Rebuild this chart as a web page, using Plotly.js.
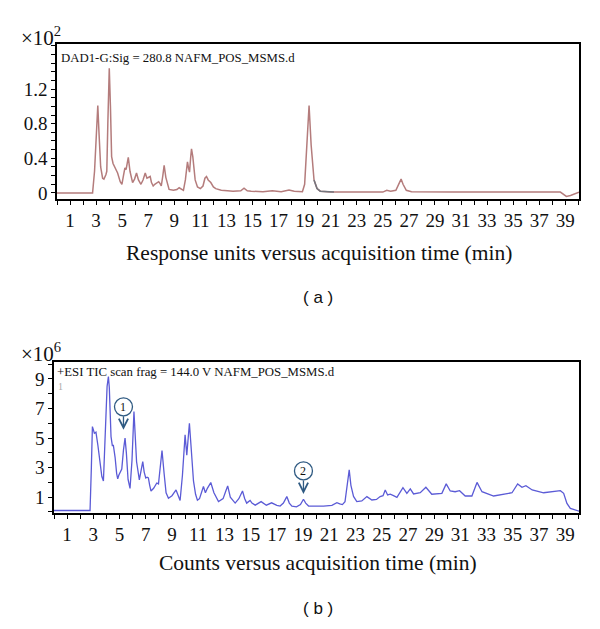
<!DOCTYPE html>
<html>
<head>
<meta charset="utf-8">
<script src="https://cdn.plot.ly/plotly-3.0.1.min.js"></script>
<style>
html,body{margin:0;padding:0;background:#fff;}
#chart{width:600px;height:629px;}
</style>
</head>
<body>
<div id="chart"></div>
<script>
// ---- Panel (a): DAD signal (x10^2 response units) ----
const timeA = [0, 2.73, 2.88, 3.0, 3.13, 3.22, 3.35, 3.5, 3.6, 3.75, 3.82, 3.9, 4.01, 4.1, 4.19, 4.3, 4.45, 4.65, 4.85, 4.98, 5.1, 5.21, 5.3, 5.47, 5.6, 5.8, 5.95, 6.1, 6.25, 6.44, 6.6, 6.77, 6.9, 6.98, 7.15, 7.25, 7.38, 7.5, 7.66, 7.8, 7.9, 8.0, 8.12, 8.22, 8.35, 8.6, 8.93, 9.2, 9.37, 9.55, 9.7, 9.85, 10.01, 10.1, 10.17, 10.25, 10.32, 10.42, 10.6, 10.78, 11.0, 11.2, 11.35, 11.47, 11.6, 11.8, 12.0, 12.18, 12.6, 13.08, 13.5, 14.1, 14.35, 14.6, 14.9, 15.8, 16.52, 17.2, 17.8, 18.2, 18.83, 19.0, 19.15, 19.34, 19.5, 19.72, 19.95, 20.2, 21.0, 21.25, 23.0, 25.0, 25.3, 25.6, 26.0, 26.2, 26.4, 26.55, 26.8, 27.2, 30.4, 38.62, 39.08, 39.4, 40.05];
const valueA = [0, 0, 0.25, 0.7, 1.01, 0.7, 0.3, 0.17, 0.16, 0.21, 0.25, 0.8, 1.44, 1.0, 0.42, 0.34, 0.3, 0.23, 0.13, 0.10, 0.2, 0.29, 0.27, 0.41, 0.25, 0.12, 0.16, 0.23, 0.15, 0.10, 0.15, 0.23, 0.17, 0.18, 0.19, 0.12, 0.08, 0.10, 0.12, 0.13, 0.11, 0.08, 0.2, 0.32, 0.18, 0.04, 0.03, 0.04, 0.06, 0.04, 0.03, 0.15, 0.36, 0.28, 0.24, 0.4, 0.51, 0.42, 0.15, 0.07, 0.05, 0.08, 0.17, 0.19, 0.15, 0.12, 0.07, 0.05, 0.03, 0.025, 0.02, 0.025, 0.055, 0.025, 0.02, 0.015, 0.025, 0.015, 0.035, 0.02, 0.015, 0.1, 0.5, 1.01, 0.55, 0.15, 0.05, 0.02, 0.01, 0.01, 0.01, 0.01, 0.03, 0.02, 0.03, 0.1, 0.16, 0.1, 0.03, 0.015, 0.01, 0.01, -0.04, -0.03, 0.01];

// ---- Panel (b): ESI TIC (x10^6 counts) ----
const timeB = [0, 2.75, 2.85, 2.93, 3.08, 3.2, 3.35, 3.51, 3.65, 3.77, 3.89, 3.97, 4.05, 4.15, 4.22, 4.35, 4.45, 4.53, 4.66, 4.78, 4.86, 4.95, 5.04, 5.17, 5.3, 5.42, 5.52, 5.65, 5.8, 5.95, 6.1, 6.2, 6.3, 6.51, 6.65, 6.77, 6.88, 7.0, 7.1, 7.2, 7.3, 7.4, 7.6, 7.84, 7.97, 8.1, 8.24, 8.4, 8.55, 8.73, 9.0, 9.31, 9.45, 9.62, 9.8, 10.0, 10.13, 10.22, 10.33, 10.45, 10.64, 10.8, 10.94, 11.1, 11.25, 11.4, 11.55, 11.7, 11.96, 12.2, 12.55, 12.9, 13.1, 13.25, 13.45, 13.82, 14.1, 14.38, 14.55, 14.7, 14.96, 15.1, 15.35, 15.8, 16.2, 16.6, 17.0, 17.25, 17.5, 17.76, 17.95, 18.15, 18.5, 18.8, 19.03, 19.2, 19.42, 20.0, 20.56, 21.2, 21.58, 21.8, 22.0, 22.2, 22.35, 22.52, 22.65, 22.85, 23.1, 23.48, 23.87, 24.25, 24.6, 24.88, 25.1, 25.27, 25.45, 25.65, 25.9, 26.16, 26.62, 26.92, 27.18, 27.43, 27.94, 28.37, 28.82, 29.59, 29.92, 30.23, 30.6, 30.94, 31.37, 31.88, 32.27, 32.65, 33.54, 34.3, 34.94, 35.37, 35.7, 36.0, 36.48, 37.35, 38.12, 38.63, 38.88, 39.13, 39.39, 40.08];
const valueB = [0.1, 0.1, 3.0, 5.78, 5.33, 5.4, 4.5, 3.2, 2.4, 2.1, 5.0, 6.8, 8.5, 9.17, 8.4, 5.1, 4.5, 4.5, 3.7, 2.6, 2.24, 2.5, 2.7, 2.9, 4.2, 5.0, 4.0, 2.2, 1.6, 3.5, 6.8, 5.0, 3.4, 2.17, 2.8, 3.41, 2.7, 2.3, 2.35, 2.3, 1.8, 1.42, 1.6, 1.96, 1.9, 3.0, 4.16, 2.6, 1.3, 0.93, 1.1, 1.49, 1.1, 0.78, 2.5, 5.22, 3.85, 5.0, 6.0, 4.5, 2.1, 1.2, 0.8, 0.9, 1.3, 1.72, 1.3, 1.6, 1.99, 1.3, 0.7, 0.9, 1.4, 1.76, 1.0, 0.6, 0.9, 1.42, 0.9, 0.6, 0.78, 0.6, 0.46, 0.7, 0.46, 0.62, 0.45, 0.4, 0.6, 1.04, 0.6, 0.4, 0.35, 0.5, 0.86, 0.6, 0.4, 0.38, 0.4, 0.45, 0.63, 0.55, 0.5, 0.7, 1.8, 2.85, 1.8, 1.05, 0.7, 0.75, 1.04, 0.81, 0.85, 1.04, 1.1, 1.49, 1.15, 1.2, 1.1, 0.99, 1.65, 1.26, 1.56, 1.22, 1.3, 1.67, 1.2, 1.26, 1.9, 1.42, 1.37, 1.44, 1.08, 1.08, 2.0, 1.37, 1.08, 1.22, 1.3, 1.9, 1.67, 1.78, 1.49, 1.3, 1.37, 1.44, 1.26, 0.58, 0.24, 0.05];

// Tick labels and texts
const xTickVals = [1,3,5,7,9,11,13,15,17,19,21,23,25,27,29,31,33,35,37,39];
const yTickValsA = [0, 0.4, 0.8, 1.2];
const yTickTextA = ['0', '0.4', '0.8', '1.2'];
const yTickValsB = [1, 3, 5, 7, 9];
const peakLabels = ['1', '2'];
const peakTimes = [5.3, 19.03];
const peakTipValues = [5.56, 1.22];
const grayStart = 19.72, grayEnd = 21.25;

const serif = 'Liberation Serif, DejaVu Serif, serif';
const lineColA = '#b47c7c';
const lineColB = '#5b5bd6';
const markCol = '#2f5a82';

const grayT = [], grayV = [];
timeA.forEach((t, i) => { if (t >= grayStart && t <= grayEnd) { grayT.push(t); grayV.push(valueA[i]); } });

const traces = [
  {x: timeA, y: valueA, type: 'scatter', mode: 'lines', line: {color: lineColA, width: 1.5}, xaxis: 'x', yaxis: 'y', hoverinfo: 'skip'},
  {x: grayT, y: grayV, type: 'scatter', mode: 'lines', line: {color: '#74767e', width: 1.5}, xaxis: 'x', yaxis: 'y', hoverinfo: 'skip'},
  {x: timeB, y: valueB, type: 'scatter', mode: 'lines', line: {color: lineColB, width: 1.3}, xaxis: 'x2', yaxis: 'y2', hoverinfo: 'skip'}
];

const tickFont = {family: serif, size: 19, color: '#111'};

function xAxis(domain, anchor) {
  return {
    domain: domain, anchor: anchor, range: [0, 40.05],
    tickmode: 'array', tickvals: xTickVals, ticktext: xTickVals.map(String),
    ticks: 'outside', ticklen: 4, tickwidth: 1, tickcolor: '#000',
    minor: {tickmode: 'linear', tick0: 0, dtick: 1, ticks: 'outside', ticklen: 4, tickwidth: 1, tickcolor: '#000', showgrid: false},
    showline: true, linecolor: '#000', linewidth: 1.6, mirror: true,
    showgrid: false, zeroline: false,
    tickfont: tickFont
  };
}
function yAxis(domain, anchor, range, vals, text, minorD) {
  return {
    domain: domain, anchor: anchor, range: range,
    tickmode: 'array', tickvals: vals, ticktext: text,
    ticks: 'outside', ticklen: 4, tickwidth: 1, tickcolor: '#000',
    minor: {tickmode: 'linear', tick0: 0, dtick: minorD, ticks: 'outside', ticklen: 4, tickwidth: 1, tickcolor: '#000', showgrid: false},
    showline: true, linecolor: '#000', linewidth: 1.6, mirror: true,
    showgrid: false, zeroline: false,
    tickfont: tickFont
  };
}

const W = 600, H = 629;
const px = v => v / W, py = v => 1 - v / H;

const annotations = [
  {text: '×10<sup>2</sup>', xref: 'paper', yref: 'paper', x: px(19), y: py(36), xanchor: 'left', yanchor: 'middle', showarrow: false, font: {family: serif, size: 21, color: '#111'}},
  {text: '×10<sup>6</sup>', xref: 'paper', yref: 'paper', x: px(19), y: py(352), xanchor: 'left', yanchor: 'middle', showarrow: false, font: {family: serif, size: 21, color: '#111'}},
  {text: 'DAD1-G:Sig = 280.8 NAFM_POS_MSMS.d', xref: 'paper', yref: 'paper', x: px(59), y: py(58), xanchor: 'left', yanchor: 'middle', showarrow: false, font: {family: serif, size: 12.8, color: '#111'}},
  {text: '+ESI TIC scan frag = 144.0 V NAFM_POS_MSMS.d', xref: 'paper', yref: 'paper', x: px(55), y: py(372), xanchor: 'left', yanchor: 'middle', showarrow: false, font: {family: serif, size: 12.8, color: '#111'}},
  {text: '1', xref: 'paper', yref: 'paper', x: px(56), y: py(386), xanchor: 'left', yanchor: 'middle', showarrow: false, font: {family: serif, size: 10, color: '#aaa'}},
  {text: 'Response units versus acquisition time (min)', xref: 'paper', yref: 'paper', x: px(319), y: py(253), xanchor: 'center', yanchor: 'middle', showarrow: false, font: {family: serif, size: 21.5, color: '#111'}},
  {text: 'Counts versus acquisition time (min)', xref: 'paper', yref: 'paper', x: px(318), y: py(563), xanchor: 'center', yanchor: 'middle', showarrow: false, font: {family: serif, size: 21.5, color: '#111'}},
  {text: '( a )', xref: 'paper', yref: 'paper', x: px(318), y: py(297), xanchor: 'center', yanchor: 'middle', showarrow: false, font: {family: 'Liberation Sans, Arial, sans-serif', size: 17, color: '#111'}},
  {text: '( b )', xref: 'paper', yref: 'paper', x: px(318), y: py(608), xanchor: 'center', yanchor: 'middle', showarrow: false, font: {family: 'Liberation Sans, Arial, sans-serif', size: 17, color: '#111'}}
];

const shapes = [];
peakLabels.forEach((lab, i) => {
  // circled number with an arrow pointing down to the peak
  annotations.push({text: lab, xref: 'x2', yref: 'y2', x: peakTimes[i], y: peakTipValues[i], showarrow: true, arrowhead: 5, arrowsize: 1.4, arrowwidth: 1.3, arrowcolor: markCol, ax: 0, ay: -23, standoff: 0, startstandoff: 1, font: {family: serif, size: 12, color: '#111'}});
  shapes.push({type: 'circle', xref: 'x2', yref: 'y2', xsizemode: 'pixel', ysizemode: 'pixel', xanchor: peakTimes[i], yanchor: peakTipValues[i], x0: -9, x1: 9, y0: 14, y1: 32, line: {color: markCol, width: 1.3}});
});

const layout = {
  width: W, height: H,
  margin: {l: 0, r: 0, t: 0, b: 0},
  paper_bgcolor: '#fff', plot_bgcolor: '#fff',
  showlegend: false,
  xaxis: xAxis([px(57), px(579)], 'y'),
  yaxis: yAxis([py(199), py(44)], 'x', [-0.07, 1.72], yTickValsA, yTickTextA, 0.1),
  xaxis2: xAxis([px(54), px(579)], 'y2'),
  yaxis2: yAxis([py(513), py(362)], 'x2', [-0.07, 10.15], yTickValsB, yTickValsB.map(String), 1),
  annotations: annotations,
  shapes: shapes
};

Plotly.newPlot('chart', traces, layout, {staticPlot: true, displayModeBar: false});
</script>
</body>
</html>
